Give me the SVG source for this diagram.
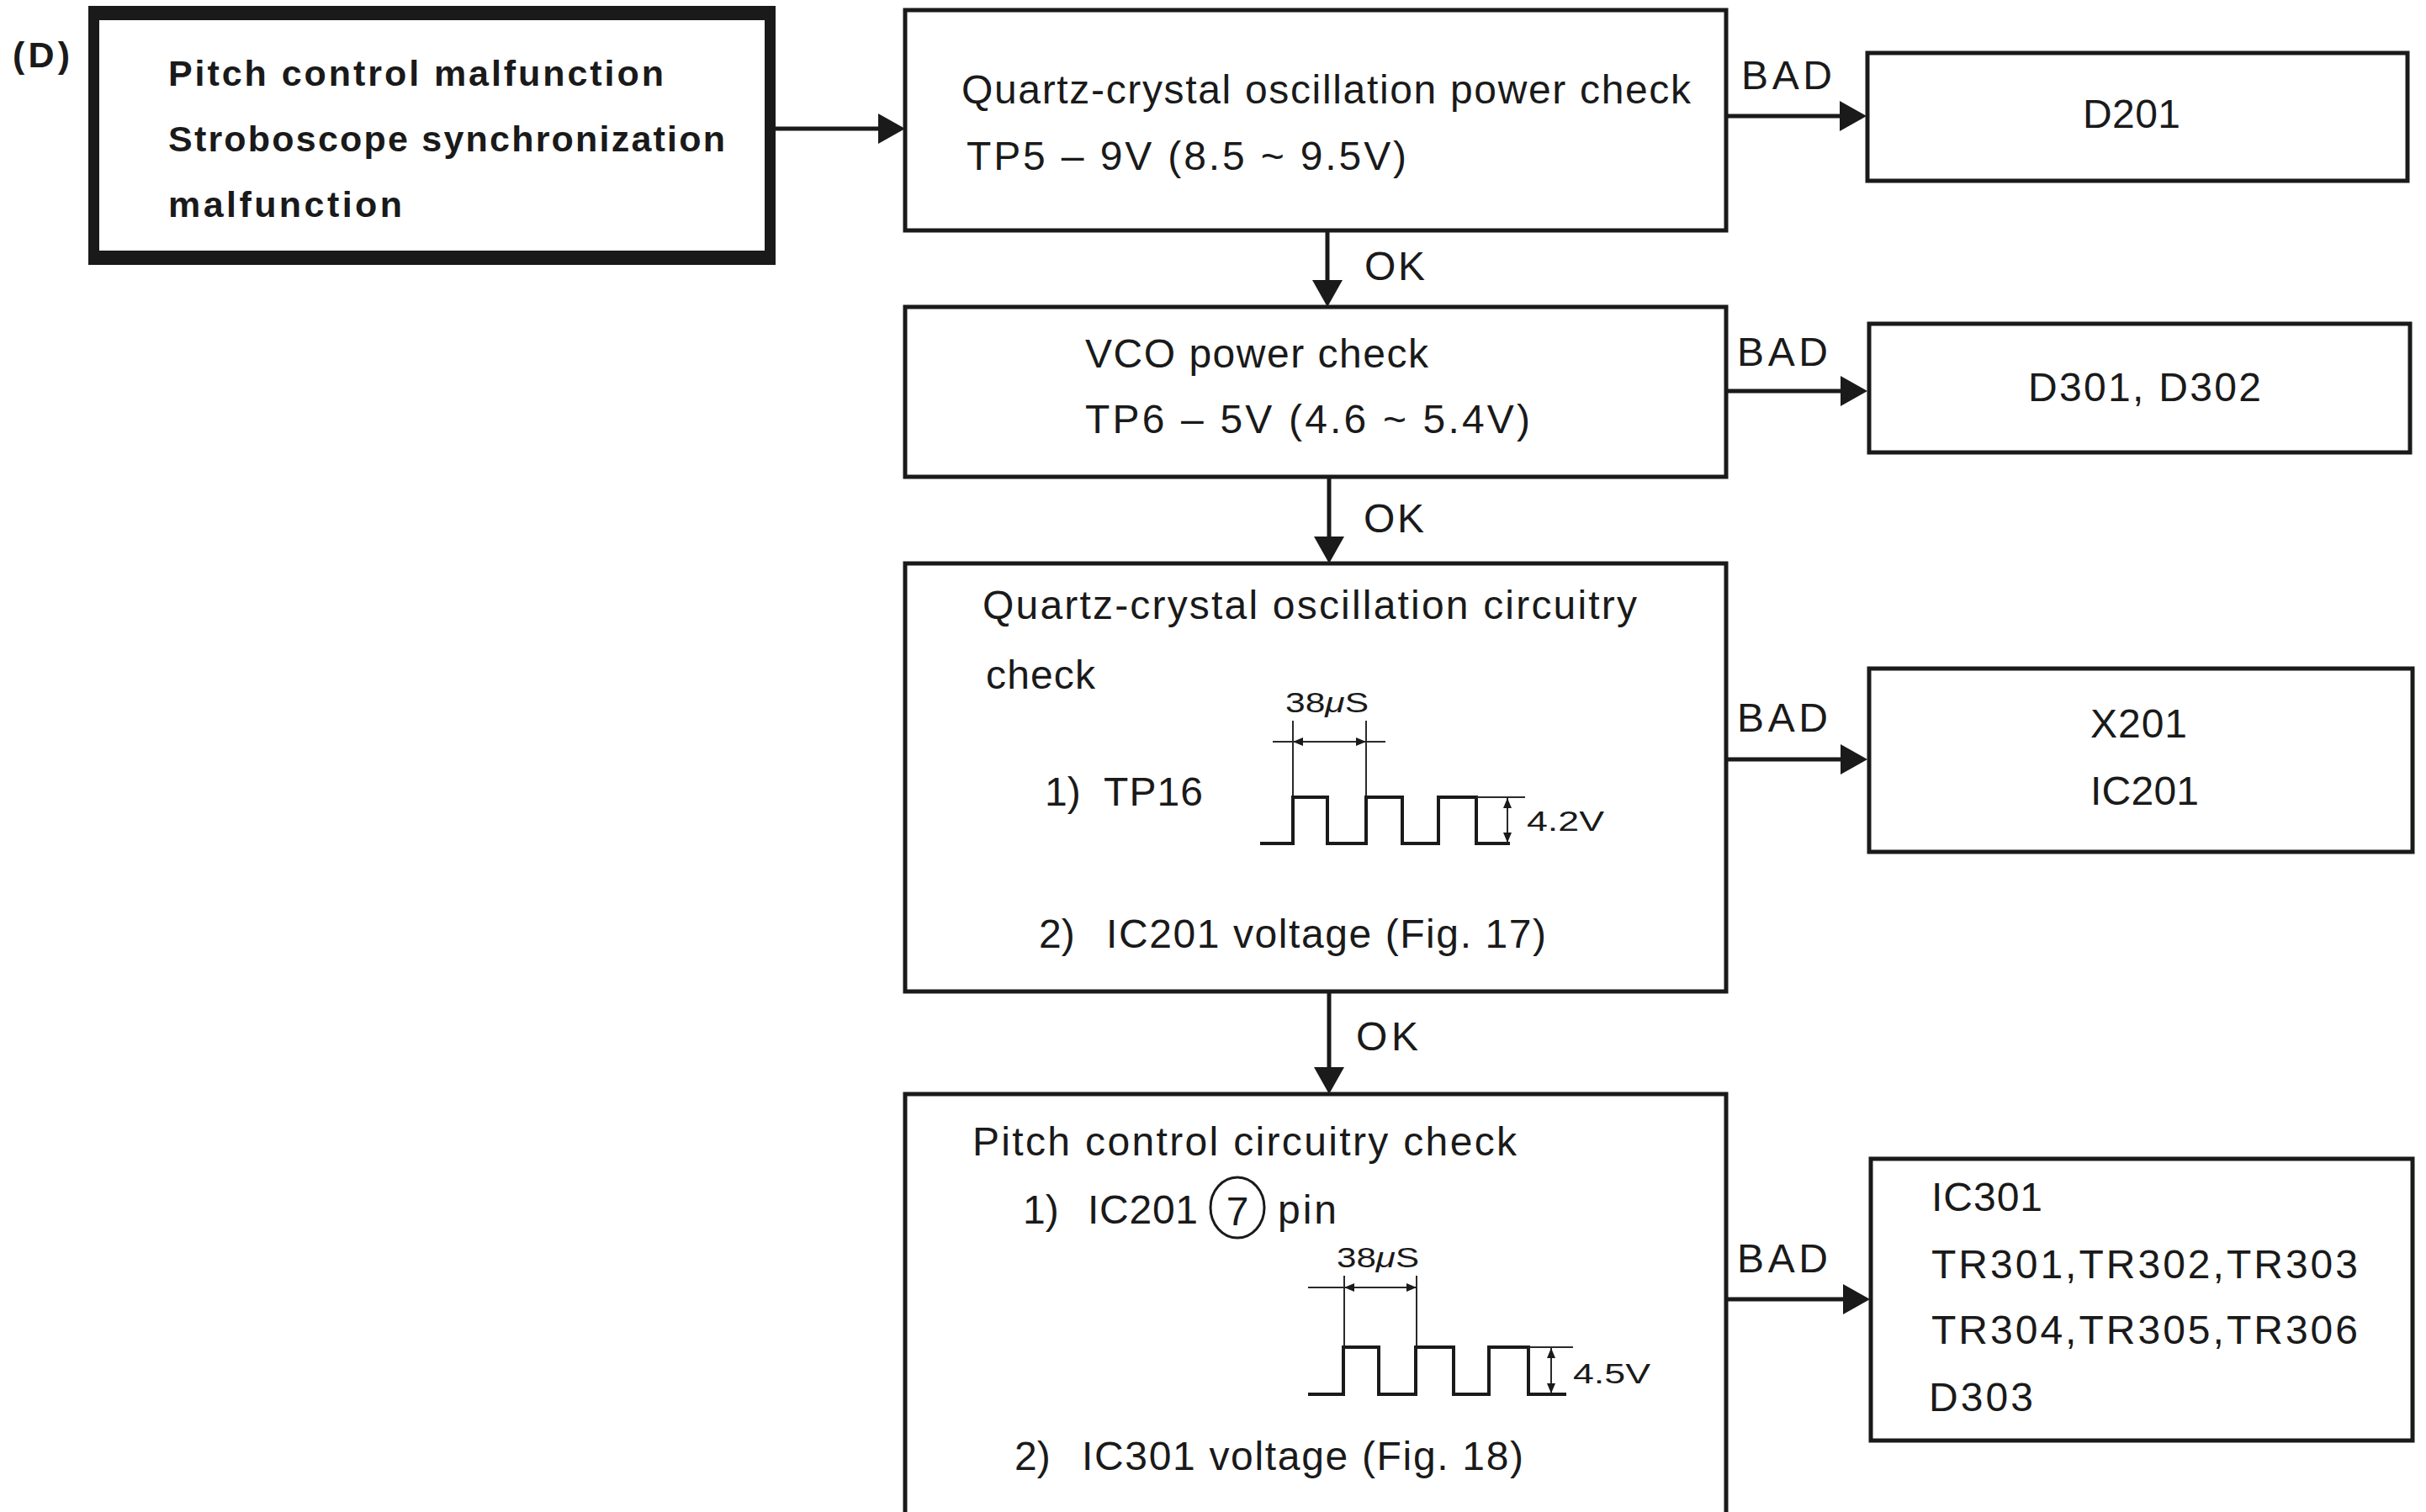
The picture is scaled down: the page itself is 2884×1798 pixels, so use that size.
<svg xmlns="http://www.w3.org/2000/svg" width="2884" height="1798" viewBox="0 0 2884 1798">
<defs>
<style>
.bg{fill:#ffffff}
.box{fill:#ffffff;stroke:#1a1a1a;stroke-width:5}
.thick{fill:#1a1a1a;fill-rule:evenodd;stroke:none}
.t{font-family:"Liberation Sans",Arial,sans-serif;font-size:48px;fill:#1a1a1a}
.tb{font-family:"Liberation Sans",Arial,sans-serif;font-size:43px;font-weight:bold;fill:#1a1a1a}
.ts{font-family:"Liberation Sans",Arial,sans-serif;font-size:34px;fill:#1a1a1a}
.conn{fill:none;stroke:#1a1a1a;stroke-width:5}
.wave{fill:none;stroke:#1a1a1a;stroke-width:4;stroke-linejoin:miter}
.dim{fill:none;stroke:#2a2a2a;stroke-width:2}
</style>
<marker id="ah" viewBox="0 0 32 36" markerWidth="32" markerHeight="36" refX="22" refY="18" orient="auto" markerUnits="userSpaceOnUse">
<path d="M0,0 L32,18 L0,36 Z" fill="#1a1a1a"/>
</marker>
<marker id="da" viewBox="0 0 12 10" markerWidth="12" markerHeight="10" refX="12" refY="5" orient="auto-start-reverse" markerUnits="userSpaceOnUse">
<path d="M0,0 L12,5 L0,10 Z" fill="#1a1a1a"/>
</marker>
</defs>
<rect class="bg" x="0" y="0" width="2884" height="1798"/>

<text class="tb" x="15" y="80" font-size="40" textLength="68" lengthAdjust="spacing">(D)</text>

<g id="connectors">
<line class="conn" x1="922" y1="153" x2="1066" y2="153" marker-end="url(#ah)"/>
<line class="conn" x1="2052" y1="138" x2="2209" y2="138" marker-end="url(#ah)"/>
<line class="conn" x1="1578" y1="274" x2="1578" y2="355" marker-end="url(#ah)"/>
<line class="conn" x1="2052" y1="465" x2="2210" y2="465" marker-end="url(#ah)"/>
<line class="conn" x1="1580" y1="567" x2="1580" y2="660" marker-end="url(#ah)"/>
<line class="conn" x1="2052" y1="903" x2="2210" y2="903" marker-end="url(#ah)"/>
<line class="conn" x1="1580" y1="1179" x2="1580" y2="1291" marker-end="url(#ah)"/>
<line class="conn" x1="2052" y1="1545" x2="2213" y2="1545" marker-end="url(#ah)"/>
<text class="t" x="2070" y="106" textLength="108" lengthAdjust="spacing">BAD</text>
<text class="t" x="1622" y="333" textLength="72" lengthAdjust="spacing">OK</text>
<text class="t" x="2065" y="435" textLength="108" lengthAdjust="spacing">BAD</text>
<text class="t" x="1621" y="633" textLength="72" lengthAdjust="spacing">OK</text>
<text class="t" x="2065" y="870" textLength="108" lengthAdjust="spacing">BAD</text>
<text class="t" x="1612" y="1249" textLength="74" lengthAdjust="spacing">OK</text>
<text class="t" x="2065" y="1513" textLength="108" lengthAdjust="spacing">BAD</text>
</g>

<g id="start">
<path class="thick" d="M105,7 H922 V315 H105 Z M118,24 V298 H909 V24 Z"/>
<text class="tb" x="200" y="102" textLength="589" lengthAdjust="spacing">Pitch control malfunction</text>
<text class="tb" x="200" y="180" textLength="662" lengthAdjust="spacing">Stroboscope synchronization</text>
<text class="tb" x="200" y="258" textLength="278" lengthAdjust="spacing">malfunction</text>
</g>

<g id="osc-power">
<rect class="box" x="1076" y="12" width="976" height="262"/>
<text class="t" x="1143" y="123" textLength="867" lengthAdjust="spacing">Quartz-crystal oscillation power check</text>
<text class="t" x="1149" y="202" textLength="523" lengthAdjust="spacing">TP5 – 9V (8.5 ~ 9.5V)</text>
</g>

<g id="d201">
<rect class="box" x="2220" y="63" width="642" height="152"/>
<text class="t" x="2476" y="152" textLength="116" lengthAdjust="spacing">D201</text>
</g>

<g id="vco-power">
<rect class="box" x="1076" y="365" width="976" height="202"/>
<text class="t" x="1290" y="437" textLength="408" lengthAdjust="spacing">VCO power check</text>
<text class="t" x="1290" y="515" textLength="529" lengthAdjust="spacing">TP6 – 5V (4.6 ~ 5.4V)</text>
</g>

<g id="d301">
<rect class="box" x="2222" y="385" width="643" height="153"/>
<text class="t" x="2411" y="477" textLength="277" lengthAdjust="spacing">D301, D302</text>
</g>

<g id="osc-circuit">
<rect class="box" x="1076" y="670" width="976" height="509"/>
<text class="t" x="1168" y="736" textLength="778" lengthAdjust="spacing">Quartz-crystal oscillation circuitry</text>
<text class="t" x="1172" y="819" textLength="130" lengthAdjust="spacing">check</text>
<text class="t" x="1242" y="958">1)<tspan x="1312" textLength="118" lengthAdjust="spacing">TP16</tspan></text>
<text class="ts" x="1528" y="847" textLength="99" lengthAdjust="spacingAndGlyphs">38<tspan font-style="italic">μ</tspan>S</text>
<line class="dim" x1="1537" y1="857" x2="1537" y2="948"/>
<line class="dim" x1="1624" y1="857" x2="1624" y2="948"/>
<line class="dim" x1="1513" y1="882" x2="1537" y2="882"/>
<line class="dim" x1="1624" y1="882" x2="1647" y2="882"/>
<line class="dim" x1="1537" y1="882" x2="1624" y2="882" marker-start="url(#da)" marker-end="url(#da)"/>
<path class="wave" d="M1498,1003 H1537 V948 H1578 V1003 H1624 V948 H1667 V1003 H1710 V948 H1755 V1003 H1795"/>
<line class="dim" x1="1755" y1="948" x2="1813" y2="948"/>
<line class="dim" x1="1792" y1="949" x2="1792" y2="1002" marker-start="url(#da)" marker-end="url(#da)"/>
<text class="ts" x="1815" y="988" textLength="92" lengthAdjust="spacingAndGlyphs">4.2V</text>
<text class="t" x="1235" y="1127">2)<tspan x="1315" textLength="523" lengthAdjust="spacing">IC201 voltage (Fig. 17)</tspan></text>
</g>

<g id="x201">
<rect class="box" x="2222" y="795" width="646" height="218"/>
<text class="t" x="2485" y="877" textLength="115" lengthAdjust="spacing">X201</text>
<text class="t" x="2485" y="957" textLength="129" lengthAdjust="spacing">IC201</text>
</g>

<g id="pitch-circuit">
<path class="box" d="M1076,1810 V1301 H2052 V1810"/>
<text class="t" x="1156" y="1374" textLength="647" lengthAdjust="spacing">Pitch control circuitry check</text>
<text class="t" x="1216" y="1455">1)<tspan x="1293" textLength="131" lengthAdjust="spacing">IC201</tspan></text>
<ellipse cx="1471" cy="1436" rx="32" ry="36" fill="none" stroke="#1a1a1a" stroke-width="3"/>
<text class="t" x="1471" y="1457" font-size="58" text-anchor="middle">7</text>
<text class="t" x="1519" y="1455" textLength="70" lengthAdjust="spacing">pin</text>
<text class="ts" x="1589" y="1507" textLength="98" lengthAdjust="spacingAndGlyphs">38<tspan font-style="italic">μ</tspan>S</text>
<line class="dim" x1="1598" y1="1517" x2="1598" y2="1602"/>
<line class="dim" x1="1684" y1="1517" x2="1684" y2="1602"/>
<line class="dim" x1="1555" y1="1531" x2="1598" y2="1531"/>
<line class="dim" x1="1598" y1="1531" x2="1684" y2="1531" marker-start="url(#da)" marker-end="url(#da)"/>
<path class="wave" d="M1555,1658 H1597 V1602 H1639 V1658 H1683 V1602 H1728 V1658 H1770 V1602 H1817 V1658 H1862"/>
<line class="dim" x1="1817" y1="1602" x2="1870" y2="1602"/>
<line class="dim" x1="1844" y1="1603" x2="1844" y2="1657" marker-start="url(#da)" marker-end="url(#da)"/>
<text class="ts" x="1870" y="1645" textLength="92" lengthAdjust="spacingAndGlyphs">4.5V</text>
<text class="t" x="1206" y="1748">2)<tspan x="1286" textLength="525" lengthAdjust="spacing">IC301 voltage (Fig. 18)</tspan></text>
</g>

<g id="ic301">
<rect class="box" x="2224" y="1378" width="644" height="335"/>
<text class="t" x="2296" y="1440" textLength="132" lengthAdjust="spacing">IC301</text>
<text class="t" x="2296" y="1520" textLength="507" lengthAdjust="spacing">TR301,TR302,TR303</text>
<text class="t" x="2296" y="1598" textLength="507" lengthAdjust="spacing">TR304,TR305,TR306</text>
<text class="t" x="2293" y="1678" textLength="124" lengthAdjust="spacing">D303</text>
</g>
</svg>
